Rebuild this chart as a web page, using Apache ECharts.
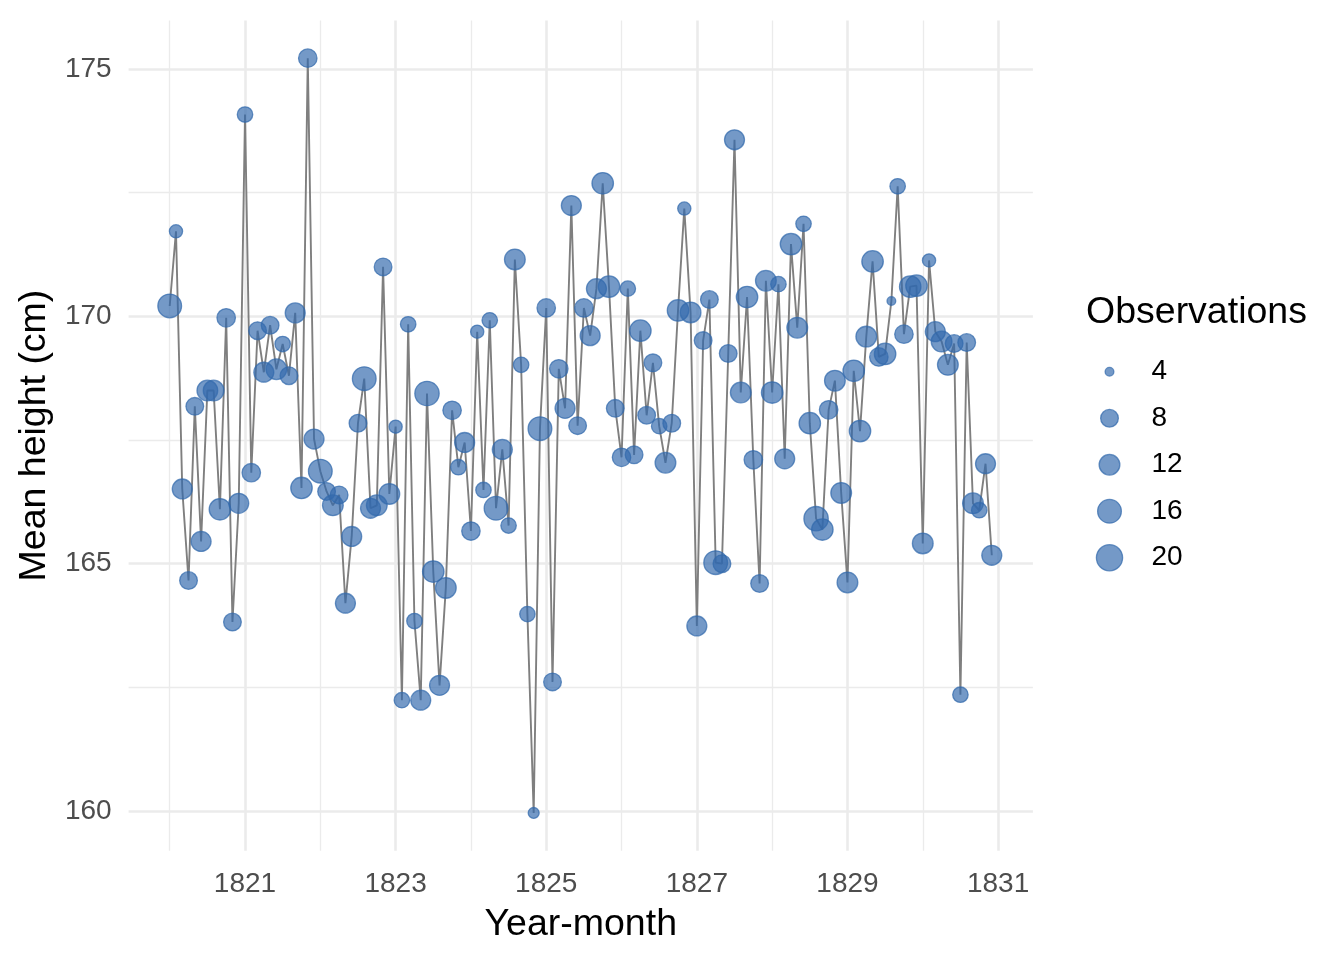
<!DOCTYPE html>
<html><head><meta charset="utf-8">
<script src="https://cdn.jsdelivr.net/npm/echarts@6/dist/echarts.min.js"></script>
<style>html,body{margin:0;padding:0;background:#fff}#c{width:1344px;height:960px}</style>
</head><body><div id="c"></div>
<script>
// ---- data ----
const firstYear = 1820, firstMonthNum = 1, monthCount = 132;
const meanHeight = [
 170.21,171.72,166.51,164.66,168.18,165.45,168.50,168.50,166.10,169.97,163.82,166.22,
 174.08,166.84,169.71,168.87,169.82,168.93,169.44,168.80,170.07,166.53,175.22,167.52,
 166.87,166.46,166.18,166.39,164.20,165.55,167.84,168.74,166.12,166.18,171.00,166.41,
 167.77,162.24,169.84,163.84,162.24,168.44,164.84,162.54,164.51,168.10,166.95,167.45,
 165.66,169.69,166.49,169.92,166.12,167.31,165.77,171.15,169.02,163.98,159.96,167.73,
 170.17,162.61,168.94,168.14,172.24,167.79,170.17,169.61,170.56,172.69,170.60,168.14,
 167.15,170.56,167.20,169.71,168.00,169.06,167.78,167.04,167.84,170.12,172.18,170.08,
 163.74,169.51,170.34,165.02,165.00,169.25,173.57,168.46,170.39,167.10,164.60,170.72,
 168.46,170.65,167.12,171.46,169.77,171.87,167.84,165.91,165.69,168.11,168.70,166.43,
 164.62,168.90,167.68,169.59,171.11,169.18,169.24,170.31,172.63,169.64,170.60,170.62,
 165.41,171.13,169.69,169.49,169.02,169.45,162.35,169.47,166.22,166.08,167.02,165.17
];
const observations = [
 16,6,11,8,8,11,12,12,13,9,8,11,
 7,9,8,11,8,12,7,8,11,13,9,11,
 16,8,12,8,11,11,8,16,11,12,8,12,
 6,7,7,7,11,17,13,11,12,9,7,11,
 9,6,7,7,16,11,7,12,7,7,5,16,
 9,8,9,11,11,8,9,11,11,13,13,8,
 9,7,8,13,8,8,7,12,8,13,6,12,
 11,8,8,16,8,8,11,12,13,9,8,12,
 13,7,11,13,12,7,13,17,13,9,12,12,
 12,13,13,12,13,9,13,4,7,9,13,13,
 12,6,11,12,12,8,7,8,12,7,11,11
];
const xTickLabels = [1821,1823,1825,1827,1829,1831];
const xMinorBreaks = [1820,1822,1824,1826,1828,1830];
const yTickLabels = [160,165,170,175];
const yMinorBreaks = [162.5,167.5,172.5];
const legendValues = [4,8,12,16,20];

// ---- derived ----
const months = [];
for (let k = 0; k < monthCount; k++) {
  const t = (firstMonthNum - 1) + k;
  const y = firstYear + Math.floor(t / 12), m = (t % 12) + 1;
  months.push(y + '-' + String(m).padStart(2, '0'));
}
const toDec = s => { const [y, m] = s.split('-').map(Number); return y + (m - 1) / 12; };
const xs = months.map(toDec);
const lineData = xs.map((x, i) => [x, meanHeight[i]]);
const pointData = xs.map((x, i) => [x, meanHeight[i], observations[i], months[i]]);

// ggplot-like 5% expansion
const xr = [Math.min(...xs), Math.max(...xs)];
const yr = [Math.min(...meanHeight), Math.max(...meanHeight)];
const xMin = xr[0] - 0.05 * (xr[1] - xr[0]), xMax = xr[1] + 0.05 * (xr[1] - xr[0]);
const yMin = yr[0] - 0.05 * (yr[1] - yr[0]), yMax = yr[1] + 0.05 * (yr[1] - yr[0]);

// size scale (outer diameter in px at the legend keys)
const keyDiam = [10, 19, 22, 25, 27.5];
const BW = 1.3;
function diam(v) {
  const L = legendValues;
  if (v <= L[0]) return keyDiam[0] + (v - L[0]) * (keyDiam[1] - keyDiam[0]) / (L[1] - L[0]);
  for (let k = 1; k < L.length; k++) {
    if (v <= L[k]) return keyDiam[k - 1] + (v - L[k - 1]) * (keyDiam[k] - keyDiam[k - 1]) / (L[k] - L[k - 1]);
  }
  const n = L.length - 1;
  return keyDiam[n] + (v - L[n]) * (keyDiam[n] - keyDiam[n - 1]) / (L[n] - L[n - 1]);
}
const symSize = v => Math.max(2, diam(v) - BW);

const FONT = 'Liberation Sans, Arial, Helvetica, sans-serif';
const FILL = 'rgba(50,105,172,0.68)';
const EDGE = 'rgba(50,105,172,0.72)';
const GRID = '#EBEBEB';
const TICK_FS = 28, TITLE_FS = 37.5;

// panel placement
const pL = 128.6, pR = 1032.9, pT = 20.4, pB = 850.7;

const chart = echarts.init(document.getElementById('c'), null, {renderer: 'canvas'});
chart.setOption({
  animation: false,
  backgroundColor: '#fff',
  textStyle: {fontFamily: FONT},
  title: {
    text: 'Observations', left: 1086, top: 294, padding: 0,
    textStyle: {fontFamily: FONT, fontSize: TITLE_FS, fontWeight: 'normal', color: '#000'}
  },
  grid: [
    {left: pL, top: pT, width: pR - pL, height: pB - pT},
    {left: 1094.5, top: 348.5, width: 30, height: 232.5}
  ],
  xAxis: [
    {
      type: 'value', gridIndex: 0, min: xMin, max: xMax,
      axisLine: {show: false},
      axisTick: {show: false, customValues: xTickLabels},
      axisLabel: {customValues: xTickLabels, fontSize: TICK_FS, color: '#4D4D4D', margin: 20, fontFamily: FONT,
                  formatter: v => String(Math.round(v))},
      splitLine: {show: true, lineStyle: {color: GRID, width: 2.6}},
      name: 'Year-month', nameLocation: 'middle', nameGap: 55,
      nameTextStyle: {fontSize: TITLE_FS, color: '#000', fontFamily: FONT}
    },
    {
      type: 'value', gridIndex: 0, min: xMin, max: xMax, position: 'bottom',
      axisLine: {show: false},
      axisTick: {show: false, customValues: xMinorBreaks},
      axisLabel: {show: false, customValues: xMinorBreaks},
      splitLine: {show: true, lineStyle: {color: GRID, width: 1.3}}
    },
    {type: 'value', gridIndex: 1, min: 0, max: 1, show: false}
  ],
  yAxis: [
    {
      type: 'value', gridIndex: 0, min: yMin, max: yMax,
      axisLine: {show: false},
      axisTick: {show: false, customValues: yTickLabels},
      axisLabel: {customValues: yTickLabels, fontSize: TICK_FS, color: '#4D4D4D', margin: 17, fontFamily: FONT,
                  formatter: v => String(Math.round(v))},
      splitLine: {show: true, lineStyle: {color: GRID, width: 2.6}},
      name: 'Mean height (cm)', nameLocation: 'middle', nameGap: 75, nameRotate: 90,
      nameTextStyle: {fontSize: TITLE_FS, color: '#000', fontFamily: FONT}
    },
    {
      type: 'value', gridIndex: 0, min: yMin, max: yMax, position: 'left',
      axisLine: {show: false},
      axisTick: {show: false, customValues: yMinorBreaks},
      axisLabel: {show: false, customValues: yMinorBreaks},
      splitLine: {show: true, lineStyle: {color: GRID, width: 1.3}}
    },
    {
      type: 'category', gridIndex: 1, inverse: true, position: 'right',
      data: legendValues.map(String),
      axisLine: {show: false}, axisTick: {show: false}, splitLine: {show: false},
      axisLabel: {fontSize: TICK_FS, color: '#000', margin: 27, fontFamily: FONT, align: 'left'}
    }
  ],
  series: [
    {
      type: 'line', xAxisIndex: 0, yAxisIndex: 0, data: lineData,
      symbol: 'none', z: 2, silent: true,
      lineStyle: {color: '#7F7F7F', width: 1.9}
    },
    {
      type: 'scatter', xAxisIndex: 0, yAxisIndex: 0, data: pointData, z: 3,
      symbolSize: d => symSize(d[2]),
      itemStyle: {color: FILL, borderColor: EDGE, borderWidth: BW, opacity: 1}
    },
    {
      type: 'scatter', xAxisIndex: 2, yAxisIndex: 2, z: 3,
      data: legendValues.map(v => [0.5, String(v), v]),
      symbolSize: d => symSize(d[2]),
      itemStyle: {color: FILL, borderColor: EDGE, borderWidth: BW, opacity: 1}
    }
  ]
});
</script></body></html>
